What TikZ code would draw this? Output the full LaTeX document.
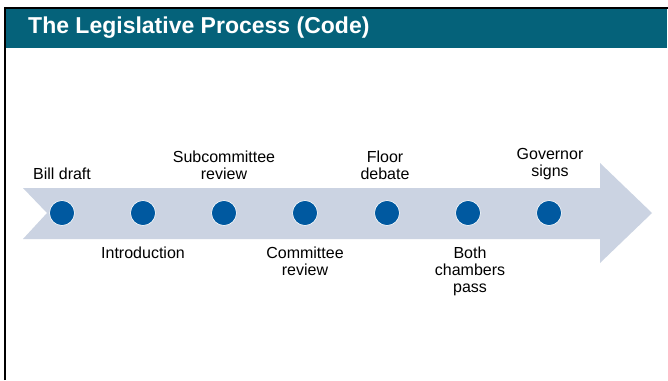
\documentclass[tikz,border=0pt]{standalone}
\usepackage{fontspec}
\setmainfont{Liberation Sans}
\definecolor{titleteal}{HTML}{05627A}
\definecolor{arrowfill}{HTML}{CBD3E2}
\definecolor{dotblue}{HTML}{0059A0}
\tikzset{
  dot/.style={circle, fill=dotblue, draw=white, line width=0.6pt, minimum size=25pt, inner sep=0pt},
  uplabel/.style={anchor=south, align=center, font=\fontsize{16}{17}\selectfont, inner sep=0pt},
  downlabel/.style={anchor=north, align=center, font=\fontsize{16}{17}\selectfont, inner sep=0pt},
}
\begin{document}
\begin{tikzpicture}[x=1pt,y=-1pt]
\useasboundingbox (0,0) rectangle (668,380);
% frame
\fill[white] (0,0) rectangle (668,380);
\fill[titleteal] (5,8) rectangle (667,48);
\draw[black, line width=2pt] (5,380) -- (5,8) -- (668,8);
\node[anchor=west, text=white, font=\bfseries\fontsize{23}{26}\selectfont, inner sep=0pt] (title) at (28,28) {The Legislative Process (Code)};
% arrow
\fill[arrowfill] (23,188) -- (600,188) -- (600,163) -- (652,213) -- (600,263) -- (600,239) -- (23,239) -- (47,213) -- cycle;
% dots
\foreach \i/\x in {1/62,2/143,3/224,4/305,5/387,6/468,7/549} {
  \node[dot] (d\i) at (\x,213) {};
}
% labels
\node[uplabel] (l1) at (62,180) {Bill draft};
\node[uplabel] (l3) at (224,180) {Subcommittee\\review};
\node[uplabel] (l5) at (385,180) {Floor\\debate};
\node[uplabel] (l7) at (550,180) {Governor\\signs};
\node[downlabel] (l2) at (143,246.5) {Introduction};
\node[downlabel] (l4) at (305,246.5) {Committee\\review};
\node[downlabel] (l6) at (470,246.5) {Both\\chambers\\pass};
\end{tikzpicture}
\end{document}
